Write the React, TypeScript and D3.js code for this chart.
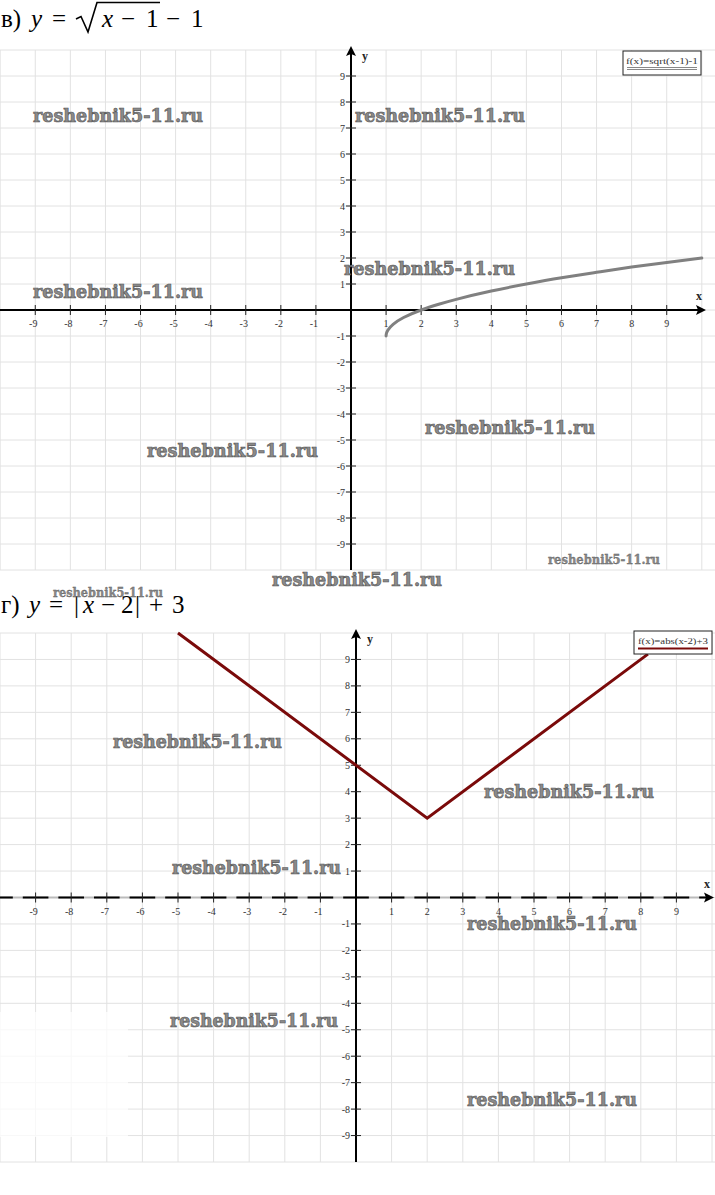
import React from "react";
import * as d3 from "d3";

const W = 715;
const H = 1195;

// tick values shown on both axes
const tickValues = [-9, -8, -7, -6, -5, -4, -3, -2, -1, 1, 2, 3, 4, 5, 6, 7, 8, 9];
const gridValues = [-10, -9, -8, -7, -6, -5, -4, -3, -2, -1, 0, 1, 2, 3, 4, 5, 6, 7, 8, 9, 10];

// chart 1: f(x)=sqrt(x-1)-1
const sqrtX = [1, 1.01, 1.05, 1.2, 1.5, 2, 2.5, 3, 4, 5, 6, 7, 8, 9, 10];
const sqrtY = [-1, -0.9, -0.78, -0.55, -0.29, 0, 0.22, 0.41, 0.73, 1, 1.24, 1.45, 1.65, 1.83, 2];

// chart 2: f(x)=abs(x-2)+3
const absX = [-5, 2, 8.2];
const absY = [10, 3, 9.2];

const legend1 = "f(x)=sqrt(x-1)-1";
const legend2 = "f(x)=abs(x-2)+3";
const watermark = "reshebnik5-11.ru";

// watermark placements [x, baseline, width, size]
const marks: [number, number, number, number][] = [
  [33, 122, 170, 18],
  [355, 122, 170, 18],
  [344, 275, 171, 18],
  [33, 298, 170, 18],
  [425, 434, 170, 18],
  [147, 457, 171, 18],
  [548, 564, 112, 12],
  [272, 586, 170, 18],
  [53, 597, 110, 12],
  [113, 748, 169, 18],
  [484, 798, 170, 18],
  [172, 874, 169, 18],
  [467, 930, 170, 18],
  [170, 1027, 168, 18],
  [467, 1106, 170, 18],
];

type Cfg = {
  x: d3.ScaleLinear<number, number>;
  y: d3.ScaleLinear<number, number>;
  xEnd: number;
  dashedX: boolean;
};

const serif = "'Liberation Serif', 'Times New Roman', serif";

function Plane({ x, y, xEnd, dashedX }: Cfg) {
  const x0 = x(0);
  const y0 = y(0);
  const yTop = y(10);
  const yBot = y(-10);
  const unit = x(1) - x(0);
  return (
    <g>
      {gridValues.map((v) => (
        <line key={"gx" + v} x1={x(v)} x2={x(v)} y1={yTop} y2={yBot} stroke="#e2e2e2" strokeWidth={1} />
      ))}
      {gridValues.map((v) => (
        <line key={"gy" + v} x1={0} x2={W} y1={y(v)} y2={y(v)} stroke="#e2e2e2" strokeWidth={1} />
      ))}
      {/* x axis */}
      {dashedX ? (
        <g>
          <line x1={0} x2={xEnd - 6} y1={y0} y2={y0} stroke="#bbb" strokeWidth={2} />
          <line
            x1={x(-10)}
            x2={xEnd - 6}
            y1={y0}
            y2={y0}
            stroke="#000"
            strokeWidth={2}
            strokeDasharray={`${unit * 0.72} ${unit * 0.28}`}
            strokeDashoffset={-unit * 0.64}
          />
        </g>
      ) : (
        <line x1={0} x2={xEnd - 6} y1={y0} y2={y0} stroke="#000" strokeWidth={2} />
      )}
      <path d={`M${xEnd},${y0} L${xEnd - 10},${y0 - 5} L${xEnd - 8},${y0} L${xEnd - 10},${y0 + 5} Z`} fill="#000" />
      {/* y axis */}
      <line x1={x0} x2={x0} y1={yBot} y2={yTop + 4} stroke="#000" strokeWidth={2} />
      <path d={`M${x0},${yTop - 4} L${x0 - 5},${yTop + 6} L${x0},${yTop + 4} L${x0 + 5},${yTop + 6} Z`} fill="#000" />
      {tickValues.map((v) => (
        <g key={"tx" + v}>
          <line x1={x(v)} x2={x(v)} y1={y0 - 5} y2={y0 + 5} stroke="#222" strokeWidth={1} />
          <text x={x(v) - (v < 0 ? 2 : 0)} y={y0 + 17} fontSize={10} fontFamily={serif} fill="#333" textAnchor="middle">
            {v}
          </text>
        </g>
      ))}
      {tickValues.map((v) => (
        <g key={"ty" + v}>
          <line x1={x0 - 5} x2={x0 + 5} y1={y(v)} y2={y(v)} stroke="#222" strokeWidth={1} />
          <text x={x0 - 6} y={y(v) + 3.5} fontSize={10} fontFamily={serif} fill="#333" textAnchor="end">
            {v}
          </text>
        </g>
      ))}
      <text x={xEnd - 10} y={y0 - 10} fontSize={12} fontWeight="bold" fontFamily={serif} fill="#222">x</text>
      <text x={x0 + 11} y={yTop + 10} fontSize={12} fontWeight="bold" fontFamily={serif} fill="#222">y</text>
    </g>
  );
}

export default function App() {
  const x1 = d3.scaleLinear().domain([-10, 10]).range([0.2, 701.8]);
  const y1 = d3.scaleLinear().domain([-10, 10]).range([570, 50]);
  const x2 = d3.scaleLinear().domain([-10, 10]).range([0, 712]);
  const y2 = d3.scaleLinear().domain([-10, 10]).range([1162, 633]);

  const sqrtPts = sqrtX.map((v, i) => [v, sqrtY[i]] as [number, number]);
  const absPts = absX.map((v, i) => [v, absY[i]] as [number, number]);
  const line1 = d3
    .line<[number, number]>()
    .x((d) => x1(d[0]))
    .y((d) => y1(d[1]))
    .curve(d3.curveMonotoneY)(sqrtPts);
  const line2 = d3
    .line<[number, number]>()
    .x((d) => x2(d[0]))
    .y((d) => y2(d[1]))(absPts);

  return (
    <svg
      width={W}
      height={H}
      viewBox={`0 0 ${W} ${H}`}
      style={{ position: "absolute", left: 0, top: 0, background: "#fff", display: "block" }}
    >
      <rect x={0} y={0} width={W} height={H} fill="#fff" />
      <Plane x={x1} y={y1} xEnd={706} dashedX={false} />
      <Plane x={x2} y={y2} xEnd={714} dashedX={true} />
      {/* faded patch at bottom-left of second chart */}
      <rect x={0} y={1012} width={128} height={125} fill="#fff" opacity={0.75} />

      <path d={line1 || ""} fill="none" stroke="#808080" strokeWidth={3} strokeLinecap="round" />
      <path d={line2 || ""} fill="none" stroke="#7a0a0a" strokeWidth={3} strokeLinejoin="miter" />

      {/* legends */}
      <g>
        <rect x={623} y={51} width={78} height={24} fill="#fff" stroke="#222" strokeWidth={1} />
        <text x={662} y={64} fontSize={8.5} fontFamily={serif} fill="#333" textAnchor="middle" textLength={72} lengthAdjust="spacingAndGlyphs">
          {legend1}
        </text>
        <line x1={627} x2={697} y1={67.5} y2={67.5} stroke="#888" strokeWidth={1} />
        <line x1={627} x2={697} y1={69.5} y2={69.5} stroke="#888" strokeWidth={1} />
      </g>
      <g>
        <rect x={634} y={631} width={78} height={23} fill="#fff" stroke="#222" strokeWidth={1} />
        <text x={673} y={644} fontSize={8.5} fontFamily={serif} fill="#333" textAnchor="middle" textLength={70} lengthAdjust="spacingAndGlyphs">
          {legend2}
        </text>
        <line x1={638} x2={708} y1={648.5} y2={648.5} stroke="#7a0a0a" strokeWidth={2} />
      </g>

      {/* titles */}
      <g fontFamily={serif} fontSize={25} fill="#000">
        <text x={1} y={27}>в)</text>
        <text x={31} y={27} fontStyle="italic">y</text>
        <text x={52} y={27}>=</text>
        <path d="M76,19 L81,16.5 L88,32 L97,2.5 L160,2.5" fill="none" stroke="#000" strokeWidth={1.6} />
        <text x={102} y={27} fontStyle="italic">x</text>
        <text x={121} y={27}>−</text>
        <text x={146} y={27}>1</text>
        <text x={166} y={27}>−</text>
        <text x={191} y={27}>1</text>
      </g>
      <g fontFamily={serif} fontSize={25} fill="#000">
        <text x={1} y={613}>г)</text>
        <text x={29} y={613} fontStyle="italic">y</text>
        <text x={49} y={613}>=</text>
        <text x={74} y={613}>|</text>
        <text x={83} y={613} fontStyle="italic">x</text>
        <text x={101} y={613}>−</text>
        <text x={121} y={613}>2</text>
        <text x={135} y={613}>|</text>
        <text x={149} y={613}>+</text>
        <text x={172} y={613}>3</text>
      </g>

      {/* watermarks */}
      {marks.map(([mx, my, mw, ms], i) => (
        <text
          key={"wm" + i}
          x={mx}
          y={my}
          fontSize={ms}
          fontWeight="bold"
          fontFamily="'DejaVu Serif', serif"
          fill="#8a8a8a"
          stroke="#555"
          strokeWidth={ms > 14 ? 0.6 : 0.3}
          textLength={mw}
          lengthAdjust="spacingAndGlyphs"
        >
          {watermark}
        </text>
      ))}
    </svg>
  );
}
